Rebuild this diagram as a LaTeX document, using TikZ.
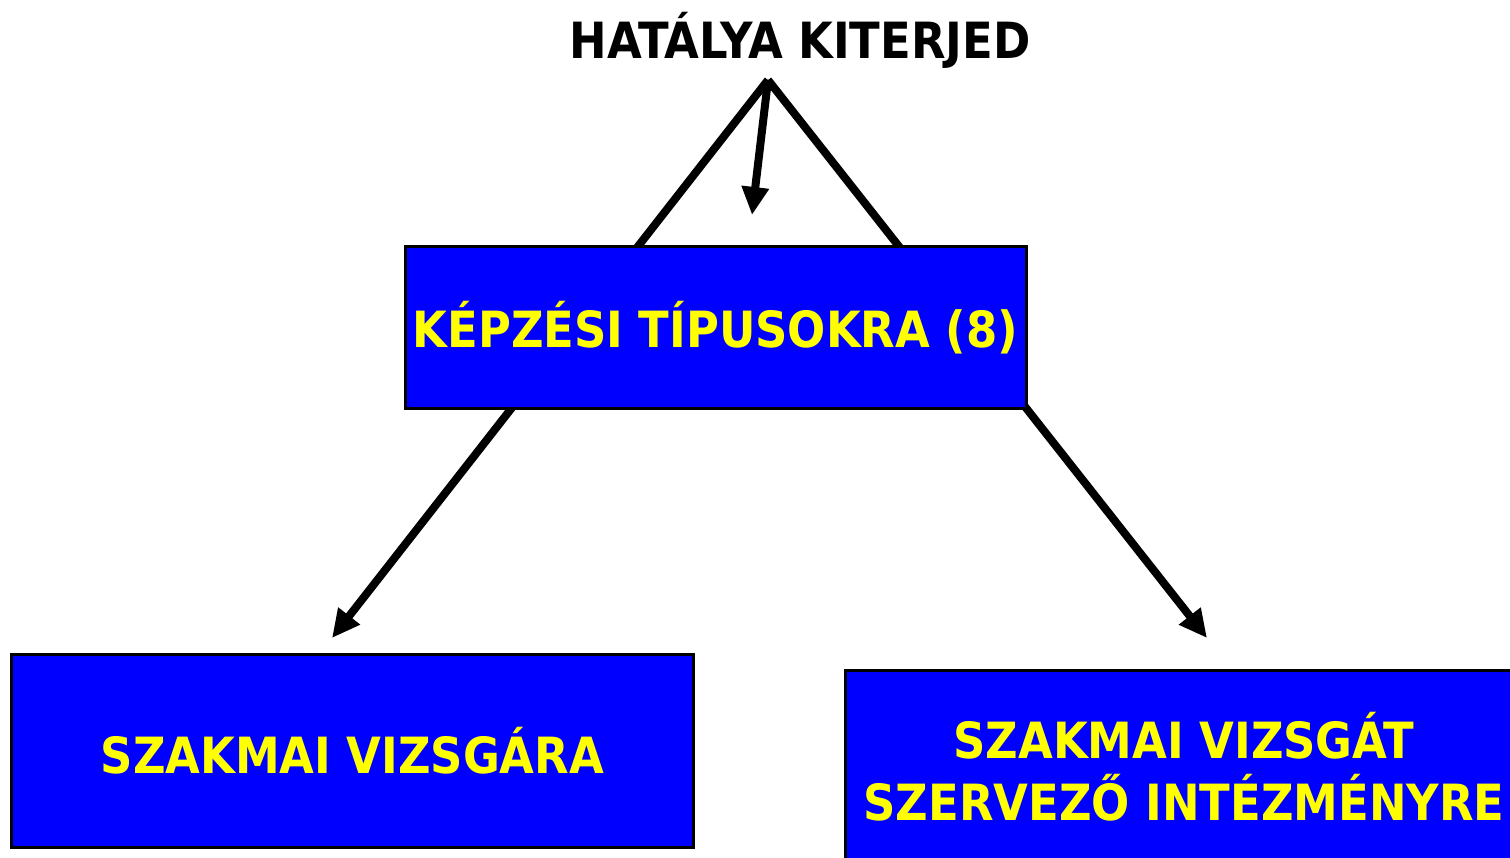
\documentclass[tikz,border=0pt]{standalone}
\usepackage{fontspec}
\setmainfont{DejaVu Sans Condensed}
\usetikzlibrary{arrows.meta}
\definecolor{boxblue}{RGB}{0,0,255}
\definecolor{boxyellow}{RGB}{255,255,0}
\tikzset{
	bluebox/.style={draw=black, line width=0.3mm, fill=boxblue, text=boxyellow, inner sep=0pt, align=center, font=\fontsize{14.2}{17.6}\selectfont\bfseries},
	reach/.style={line width=0.8mm, -{Triangle[length=2.8mm, width=2.6mm]}}
}
\begin{document}
\begin{tikzpicture}
		%%%%% START %%%%%
		\useasboundingbox (0, 0) rectangle (15.10, -8.58);
		\clip (0, 0) rectangle (15.10, -8.58);
		
		\node[font=\fontsize{14.2}{18}\selectfont\bfseries] (hatalya) at (8.00, -0.40) {HATÁLYA KITERJED};
		\coordinate (apex) at (7.68, -0.80);
		\coordinate (tipmid) at (7.52, -2.15);
		\coordinate (tipleft) at (3.32, -6.38);
		\coordinate (tipright) at (12.07, -6.38);
		
		\draw[reach] (apex) -- (tipmid);
		\draw[reach] (apex) -- (tipleft);
		\draw[reach] (apex) -- (tipright);
		
		\node[bluebox, minimum width=6.21cm, minimum height=1.62cm] (tipusok) at (7.155, -3.28) {KÉPZÉSI TÍPUSOKRA (8)};
		\node[bluebox, minimum width=6.81cm, minimum height=1.92cm] (vizsga) at (3.525, -7.51) {SZAKMAI VIZSGÁRA};
		\node[bluebox, minimum width=6.78cm, minimum height=1.92cm] (intezmeny) at (11.84, -7.665) {SZAKMAI VIZSGÁT\\SZERVEZŐ INTÉZMÉNYRE};
		%%%%% END %%%%%
\end{tikzpicture}
\end{document}
